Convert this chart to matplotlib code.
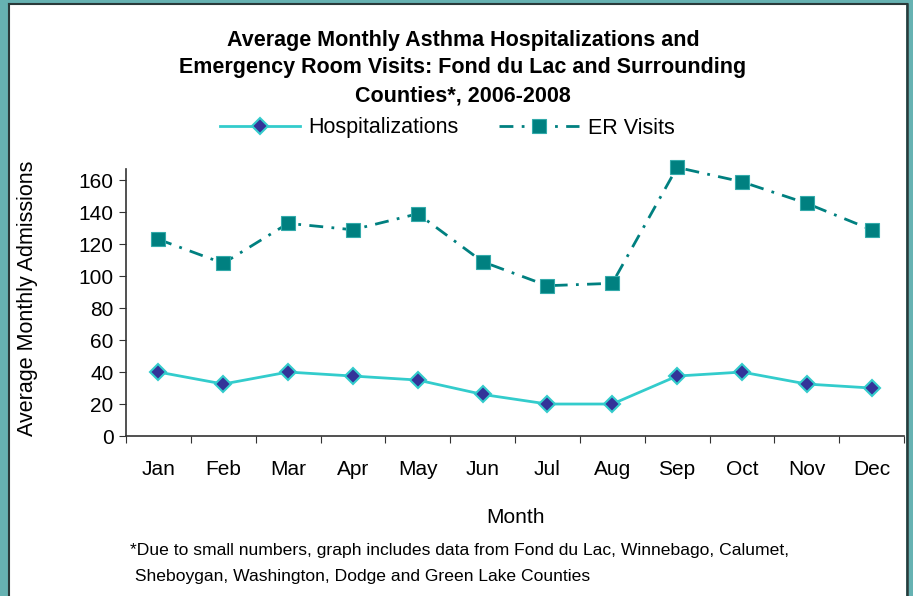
import matplotlib
matplotlib.use("Agg")
import matplotlib.pyplot as plt
from matplotlib.patches import Rectangle

months = ["Jan", "Feb", "Mar", "Apr", "May", "Jun", "Jul", "Aug", "Sep", "Oct", "Nov", "Dec"]
hospitalizations = [40, 32.5, 40, 37.5, 35, 26, 20, 20, 37.5, 40, 32.5, 30]
er_visits = [123, 108, 133, 129, 139, 109, 94, 95.5, 168, 159, 145.5, 129]
yticks = [0, 20, 40, 60, 80, 100, 120, 140, 160]

plt.rcParams['font.family'] = ['Liberation Sans', 'DejaVu Sans']

fig = plt.figure(figsize=(9.13, 5.96), dpi=100)
W, H = 913, 596

# frame: teal background with white panel
fig.patch.set_facecolor('#66B2B2')
fig.add_artist(Rectangle((9/W, 0), (906-9)/W, 1 - 4/H, transform=fig.transFigure,
                         facecolor='white', edgecolor='none', zorder=0))
fig.add_artist(plt.Line2D([8.5/W, 8.5/W], [0, 1 - 3.5/H], transform=fig.transFigure,
                          color='#2a3a3a', lw=1.5, zorder=1))
fig.add_artist(plt.Line2D([8.5/W, 907/W], [1 - 3.5/H, 1 - 3.5/H], transform=fig.transFigure,
                          color='#2a3a3a', lw=1.5, zorder=1))
fig.add_artist(plt.Line2D([907/W, 907/W], [0, 1 - 3.5/H], transform=fig.transFigure,
                          color='#2a3a3a', lw=1.8, zorder=1))

ax = fig.add_axes([126/W, 1 - 436/H, (904-126)/W, (436-169)/H])
ax.set_facecolor('white')
x = list(range(len(months)))

ax.plot(x, hospitalizations, color='#33CCCC', lw=2, marker='D', markersize=8,
        markerfacecolor='#333399', markeredgecolor='#33CCCC', markeredgewidth=1.5,
        label='Hospitalizations', zorder=3, clip_on=False)
ax.plot(x, er_visits, color='#008080', lw=2, linestyle=(0, (5, 3, 1, 3)), marker='s',
        markersize=10, markerfacecolor='#008080', markeredgecolor='#33AAAA',
        markeredgewidth=0.8, label='ER Visits', zorder=3, clip_on=False)

ax.set_xlim(-0.5, len(months) - 0.5)
ax.set_ylim(0, 167)
ax.set_yticks(yticks)
ax.set_yticklabels([str(v) for v in yticks], fontsize=15)
ax.set_xticks([i - 0.5 for i in range(len(months) + 1)])
ax.set_xticklabels([])
ax.set_xticks(x, minor=True)
ax.set_xticklabels(months, minor=True, fontsize=15)
ax.tick_params(axis='x', which='minor', length=0, pad=17)
ax.tick_params(axis='x', which='major', direction='out', length=5, color='#333333')
ax.tick_params(axis='y', direction='out', length=5, color='#333333', pad=4)
for s in ['top', 'right']:
    ax.spines[s].set_visible(False)
for s in ['left', 'bottom']:
    ax.spines[s].set_color('#333333')
    ax.spines[s].set_linewidth(1.2)

ax.set_xlabel('Month', fontsize=15, labelpad=21)
fig.text(28/W, 1 - 298/H, 'Average Monthly Admissions', rotation=90, fontsize=15.5,
         ha='center', va='center')

fig.text(463/W, 1 - 68/H,
         'Average Monthly Asthma Hospitalizations and\nEmergency Room Visits: Fond du Lac and Surrounding\nCounties*, 2006-2008',
         ha='center', va='center', fontsize=15.5, fontweight='bold', linespacing=1.43)

leg = fig.legend(loc='center left', bbox_to_anchor=(220/W, 1 - 128/H), ncol=2, frameon=False,
                 fontsize=15.5, handlelength=3.7, columnspacing=1.9, handletextpad=0.4,
                 borderpad=0, borderaxespad=0)

fig.text(130/W, 1 - 551/H,
         '*Due to small numbers, graph includes data from Fond du Lac, Winnebago, Calumet,',
         ha='left', va='center', fontsize=12.6)
fig.text(130/W, 1 - 577/H,
         ' Sheboygan, Washington, Dodge and Green Lake Counties',
         ha='left', va='center', fontsize=12.6)

fig.savefig('out.png', dpi=100)
